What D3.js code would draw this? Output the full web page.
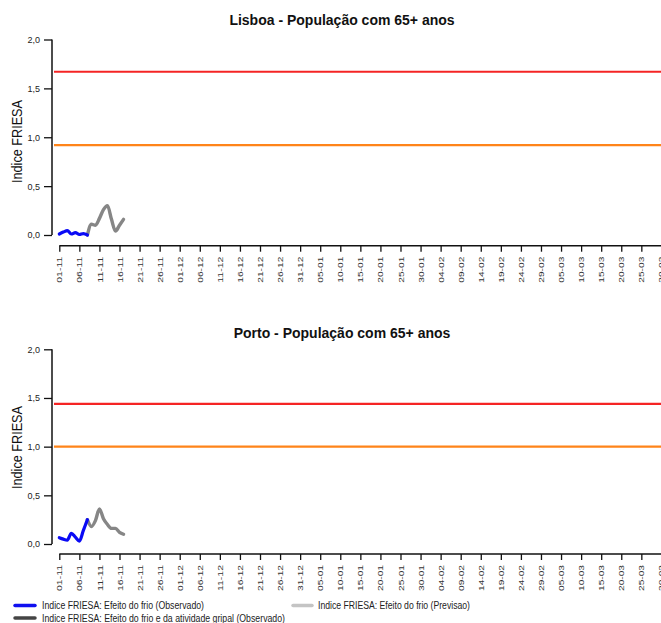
<!DOCTYPE html>
<html>
<head>
<meta charset="utf-8">
<script src="https://cdn.jsdelivr.net/npm/d3@7"></script>
<style>
  html, body { margin: 0; padding: 0; background: #fff; }
  svg { display: block; font-family: "Liberation Sans", Arial, sans-serif; }
</style>
</head>
<body>
<svg id="chart" width="661" height="623"></svg>
<script>
// ---------------- DATA ----------------
const xTickLabels = ["01-11","06-11","11-11","16-11","21-11","26-11","01-12","06-12","11-12","16-12",
  "21-12","26-12","31-12","05-01","10-01","15-01","20-01","25-01","30-01","04-02","09-02","14-02",
  "19-02","24-02","29-02","05-03","10-03","15-03","20-03","25-03","30-03"];
const yTicks = [0, 0.5, 1.0, 1.5, 2.0];

// daily values starting 01-11 (Indice FRIESA: Efeito do frio, Observado)
const lisboaFrio = [0.01, 0.03, 0.045, 0.01, 0.025, 0.005, 0.015, 0.0];
// daily values starting 08-11 (day 7)
const lisboaGray = [0.0, 0.11, 0.10, 0.17, 0.26, 0.30, 0.16, 0.04, 0.10, 0.16];
const lisboaThresholds = [1.67, 0.92];

const portoFrio = [0.065, 0.05, 0.04, 0.11, 0.07, 0.03, 0.14, 0.25];
const portoGray = [0.25, 0.18, 0.24, 0.36, 0.26, 0.20, 0.16, 0.16, 0.12, 0.10];
const portoThresholds = [1.44, 1.0];

const grayStartDay = 7;
const titles = ["Lisboa - População com 65+ anos", "Porto - População com 65+ anos"];
const legendLabels = [
  "Indice FRIESA: Efeito do frio (Observado)",
  "Indice FRIESA: Efeito do frio e da atividade gripal (Observado)",
  "Indice FRIESA: Efeito do frio (Previsao)"
];

// ---------------- HELPERS ----------------
const parseLabel = s => {
  const [dd, mm] = s.split("-").map(Number);
  return new Date(Date.UTC(mm >= 11 ? 2019 : 2020, mm - 1, dd));
};
const start = parseLabel(xTickLabels[0]);
const dayDate = i => d3.utcDay.offset(start, i);
const tickDates = xTickLabels.map(parseLabel);

const x = d3.scaleUtc()
  .domain([start, tickDates[tickDates.length - 1]])
  .range([59.3, 59.3 + 150 * 4.014]);

const fmtY = d => d3.format(".1f")(d).replace(".", ",");

const svg = d3.select("#chart");

const panels = [
  { title: titles[0], frio: lisboaFrio, gray: lisboaGray, thr: lisboaThresholds,
    y0: 235, y2: 39.5, axisY: 245.7, titleY: 25, labelY: 141.5 },
  { title: titles[1], frio: portoFrio, gray: portoGray, thr: portoThresholds,
    y0: 544, y2: 349.3, axisY: 554, titleY: 338, labelY: 447.5 }
];

const thrColors = ["#f52424", "#ff8419"];

panels.forEach(p => {
  const y = d3.scaleLinear().domain([0, 2]).range([p.y0, p.y2]);
  const g = svg.append("g");

  // title
  g.append("text")
    .attr("x", 342).attr("y", p.titleY)
    .attr("text-anchor", "middle")
    .attr("font-weight", "bold").attr("font-size", 14)
    .attr("fill", "#111")
    .text(p.title);

  // y axis
  const yAxis = d3.axisLeft(y).tickValues(yTicks).tickFormat(fmtY).tickSize(8).tickPadding(4);
  const ya = g.append("g").attr("transform", "translate(52,0)").call(yAxis);
  ya.select(".domain").attr("stroke", "#111").attr("stroke-width", 1.5).attr("d", `M0,${p.y0}V${p.y2}`);
  ya.selectAll(".tick line").attr("stroke", "#111").attr("stroke-width", 1.3);
  ya.selectAll(".tick text").attr("font-size", 9).attr("fill", "#222")
    .attr("font-family", "Liberation Sans, Arial, sans-serif");

  // y label
  g.append("text")
    .attr("transform", `translate(22,${p.labelY}) rotate(-90)`)
    .attr("text-anchor", "middle")
    .attr("font-size", 14)
    .attr("textLength", 83).attr("lengthAdjust", "spacingAndGlyphs")
    .attr("fill", "#111")
    .text("Indice FRIESA");

  // x axis
  const xAxis = d3.axisBottom(x).tickValues(tickDates)
    .tickFormat((d, i) => xTickLabels[i]).tickSize(6).tickPadding(3);
  const xa = g.append("g").attr("transform", `translate(0,${p.axisY})`).call(xAxis);
  xa.select(".domain").attr("stroke", "#111").attr("stroke-width", 1.5)
    .attr("d", `M${x(tickDates[0])},0H${x(tickDates[tickDates.length - 1])}`);
  xa.selectAll(".tick line").attr("stroke", "#111").attr("stroke-width", 1.3);
  xa.selectAll(".tick text")
    .attr("font-size", 8).attr("fill", "#333")
    .attr("font-family", "Liberation Sans, Arial, sans-serif")
    .attr("transform", "rotate(-90)")
    .attr("text-anchor", "end")
    .attr("x", -11).attr("y", 0).attr("dy", "0.32em")
    .attr("textLength", 26).attr("lengthAdjust", "spacingAndGlyphs");

  // thresholds
  p.thr.forEach((v, i) => {
    g.append("line")
      .attr("x1", 54).attr("x2", 661)
      .attr("y1", y(v)).attr("y2", y(v))
      .attr("stroke", thrColors[i]).attr("stroke-width", 2.2);
  });

  const line = d3.line().x(d => x(d[0])).y(d => y(d[1])).curve(d3.curveMonotoneX);

  // gray series
  g.append("path")
    .datum(p.gray.map((v, i) => [dayDate(grayStartDay + i), v]))
    .attr("d", line)
    .attr("fill", "none").attr("stroke", "#868686").attr("stroke-width", 3.4)
    .attr("stroke-linejoin", "round").attr("stroke-linecap", "round");

  // blue series
  g.append("path")
    .datum(p.frio.map((v, i) => [dayDate(i), v]))
    .attr("d", line)
    .attr("fill", "none").attr("stroke", "#0a0af5").attr("stroke-width", 3.2)
    .attr("stroke-linejoin", "round").attr("stroke-linecap", "round");
});

// ---------------- LEGEND ----------------
const legendItems = [
  { label: legendLabels[0], color: "#1010f0", x1: 15, x2: 35, tx: 42, y: 605.5, tl: 162 },
  { label: legendLabels[1], color: "#444444", x1: 15, x2: 35, tx: 42, y: 618, tl: 243 },
  { label: legendLabels[2], color: "#c4c4c4", x1: 293, x2: 312, tx: 318, y: 605.5, tl: 152 }
];
const lg = svg.append("g");
legendItems.forEach(it => {
  lg.append("line")
    .attr("x1", it.x1).attr("x2", it.x2).attr("y1", it.y).attr("y2", it.y)
    .attr("stroke", it.color).attr("stroke-width", 3.5).attr("stroke-linecap", "round");
  lg.append("text")
    .attr("x", it.tx).attr("y", it.y + 3.5)
    .attr("font-size", 10).attr("fill", "#222")
    .attr("textLength", it.tl).attr("lengthAdjust", "spacingAndGlyphs")
    .text(it.label);
});
</script>
</body>
</html>
